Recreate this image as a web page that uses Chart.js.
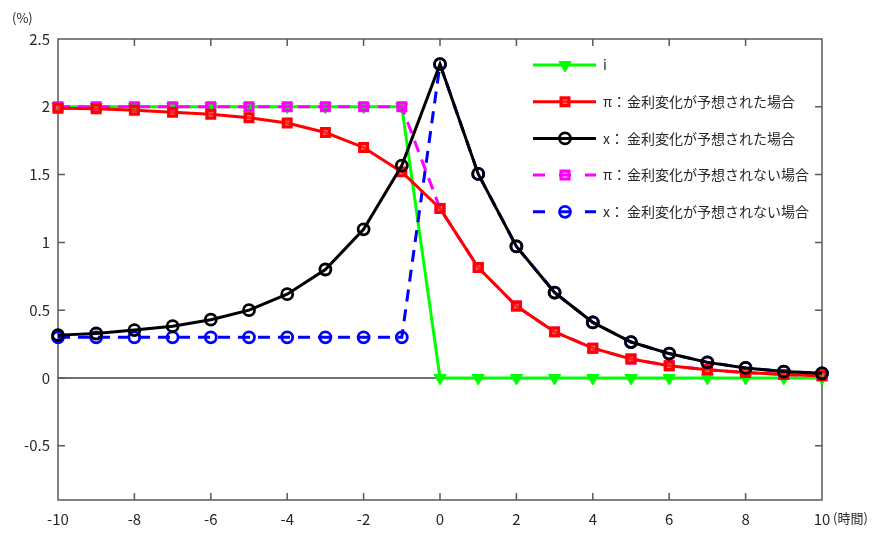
<!DOCTYPE html>
<html>
<head>
<meta charset="utf-8">
<script src="https://cdn.jsdelivr.net/npm/chart.js@4/dist/chart.umd.min.js"></script>
<style>
  body { margin: 0; background: #fff; }
  #wrap { width: 885px; height: 541px; }
</style>
</head>
<body>
<div id="wrap"><canvas id="chart" width="885" height="541"></canvas></div>
<script>
// time periods
const periods = [-10, -9, -8, -7, -6, -5, -4, -3, -2, -1, 0, 1, 2, 3, 4, 5, 6, 7, 8, 9, 10];
const xTicks = [-10, -8, -6, -4, -2, 0, 2, 4, 6, 8, 10];
const yTicks = [-0.5, 0, 0.5, 1, 1.5, 2, 2.5];

// interest rate i
const iRate = [2, 2, 2, 2, 2, 2, 2, 2, 2, 2, 0, 0, 0, 0, 0, 0, 0, 0, 0, 0, 0];
// expected rate change
const piExpected = [1.99, 1.985, 1.975, 1.96, 1.945, 1.92, 1.88, 1.81, 1.70, 1.52, 1.25,
  0.815, 0.53, 0.34, 0.22, 0.14, 0.09, 0.06, 0.04, 0.025, 0.017];
const xExpected = [0.316, 0.328, 0.353, 0.382, 0.43, 0.50, 0.618, 0.80, 1.096, 1.566, 2.314,
  1.505, 0.97, 0.63, 0.41, 0.265, 0.18, 0.115, 0.074, 0.047, 0.034];
// unexpected rate change
const piUnexpected = [2, 2, 2, 2, 2, 2, 2, 2, 2, 2, 1.25,
  0.815, 0.53, 0.34, 0.22, 0.14, 0.09, 0.06, 0.04, 0.025, 0.017];
const xUnexpected = [0.3, 0.3, 0.3, 0.3, 0.3, 0.3, 0.3, 0.3, 0.3, 0.3, 2.314,
  1.505, 0.97, 0.63, 0.41, 0.265, 0.18, 0.115, 0.074, 0.047, 0.034];

const seriesNames = [
  ['i', ''],
  ['π：', '金利変化が予想された場合'],
  ['x：', '金利変化が予想された場合'],
  ['π：', '金利変化が予想されない場合'],
  ['x：', '金利変化が予想されない場合'],
];

const FONT = '"Noto Sans CJK JP", "Noto Sans", sans-serif';
const TEXT = '#262626';
const AXIS = '#5a5a5a';
const DASH = [12, 8];

const toXY = (ys) => periods.map((p, k) => ({ x: p, y: ys[k] }));

const series = (label, ys, color, opts) => Object.assign({
  label,
  data: toXY(ys),
  borderColor: color,
  pointBorderColor: color,
  pointBackgroundColor: 'rgba(0,0,0,0)',
  borderWidth: 3,
  pointBorderWidth: 2.8,
  pointRadius: 5.5,
  tension: 0,
  clip: false,
}, opts);

const datasets = [
  series('i', iRate, '#00ff00', {
    pointStyle: 'triangle', rotation: 180, pointRadius: 7,
    pointBackgroundColor: '#00ff00', pointBorderWidth: 1, order: 5,
  }),
  series('pi_exp', piExpected, '#ff0000', {
    pointStyle: 'rect', pointRadius: 5.5, pointBorderWidth: 3.2,
    pointBackgroundColor: 'rgba(255,60,60,0.6)', order: 2,
  }),
  series('x_exp', xExpected, '#000000', { pointStyle: 'circle', order: 1 }),
  series('pi_unexp', piUnexpected, '#ff00ff', {
    pointStyle: 'rect', pointRadius: 5.5, pointBorderWidth: 3.2, borderDash: DASH, order: 4,
  }),
  series('x_unexp', xUnexpected, '#0000ff', { pointStyle: 'circle', borderDash: DASH, order: 3 }),
];

// box, inward ticks, zero line, legend and unit labels
const framePlugin = {
  id: 'frame',
  beforeDatasetsDraw(chart) {
    const { ctx, chartArea: a, scales } = chart;
    const y0 = scales.y.getPixelForValue(0);
    ctx.save();
    ctx.strokeStyle = '#404040';
    ctx.lineWidth = 1.5;
    ctx.beginPath();
    ctx.moveTo(a.left, y0);
    ctx.lineTo(a.right, y0);
    ctx.stroke();

    ctx.strokeStyle = AXIS;
    ctx.lineWidth = 1.5;
    ctx.strokeRect(a.left, a.top, a.right - a.left, a.bottom - a.top);
    const tl = 7;
    ctx.beginPath();
    xTicks.slice(1, -1).forEach((v) => {
      const px = scales.x.getPixelForValue(v);
      ctx.moveTo(px, a.bottom); ctx.lineTo(px, a.bottom - tl);
      ctx.moveTo(px, a.top); ctx.lineTo(px, a.top + tl);
    });
    yTicks.forEach((v) => {
      const py = scales.y.getPixelForValue(v);
      if (py <= a.top + 1 || py >= a.bottom - 1) return;
      ctx.moveTo(a.left, py); ctx.lineTo(a.left + tl, py);
      ctx.moveTo(a.right, py); ctx.lineTo(a.right - tl, py);
    });
    ctx.stroke();
    ctx.restore();
  },
  afterDraw(chart) {
    const { ctx, chartArea: a } = chart;
    ctx.save();
    // unit labels
    ctx.fillStyle = TEXT;
    ctx.font = '13px ' + FONT;
    ctx.textBaseline = 'middle';
    ctx.textAlign = 'left';
    ctx.fillText('(%)', 12, 18);
    ctx.fillText('(時間)', a.right + 11, 518);

    // legend
    const lx = a.right - 289;
    chart.data.datasets.forEach((ds, k) => {
      const y = a.top + 26 + k * 36.7;
      ctx.strokeStyle = ds.borderColor;
      ctx.lineWidth = ds.borderWidth;
      ctx.setLineDash([]);
      ctx.beginPath();
      if (ds.borderDash) {
        ctx.moveTo(lx, y); ctx.lineTo(lx + 12, y);
        ctx.moveTo(lx + 52, y); ctx.lineTo(lx + 63, y);
        ctx.moveTo(lx + 26, y); ctx.lineTo(lx + 38, y);
      } else {
        ctx.moveTo(lx, y); ctx.lineTo(lx + 63, y);
      }
      ctx.stroke();
      ctx.fillStyle = ds.pointBackgroundColor;
      ctx.strokeStyle = ds.pointBorderColor;
      ctx.lineWidth = ds.pointBorderWidth;
      Chart.helpers.drawPoint(ctx, {
        pointStyle: ds.pointStyle,
        radius: ds.pointRadius,
        rotation: ds.rotation || 0,
        borderWidth: ds.pointBorderWidth,
      }, lx + 32, y);

      ctx.fillStyle = TEXT;
      ctx.font = '14px ' + FONT;
      ctx.textAlign = 'left';
      ctx.fillText(seriesNames[k][0], lx + 70, y);
      if (seriesNames[k][1]) ctx.fillText(seriesNames[k][1], lx + 94, y);
    });
    ctx.restore();
  },
};

new Chart(document.getElementById('chart'), {
  type: 'line',
  data: { datasets },
  plugins: [framePlugin],
  options: {
    responsive: false,
    animation: false,
    devicePixelRatio: 1,
    layout: { padding: { left: 0, top: 39, right: 63, bottom: 0 } },
    plugins: { legend: { display: false }, tooltip: { enabled: false } },
    scales: {
      x: {
        type: 'linear',
        min: -10,
        max: 10,
        grid: { display: false, drawTicks: false },
        border: { display: false },
        afterBuildTicks: (s) => { s.ticks = xTicks.map((v) => ({ value: v })); },
        afterFit: (s) => { s.height = 41; },
        ticks: {
          padding: 10, color: TEXT, font: { family: FONT, size: 15 }, maxRotation: 0,
          callback: (v) => String(v),
        },
      },
      y: {
        min: -0.9,
        max: 2.5,
        grid: { display: false, drawTicks: false },
        border: { display: false },
        afterBuildTicks: (s) => { s.ticks = yTicks.map((v) => ({ value: v })); },
        afterFit: (s) => { s.width = 58; },
        ticks: {
          padding: 8, color: TEXT, font: { family: FONT, size: 15 },
          callback: (v) => String(v),
        },
      },
    },
  },
});
</script>
</body>
</html>
